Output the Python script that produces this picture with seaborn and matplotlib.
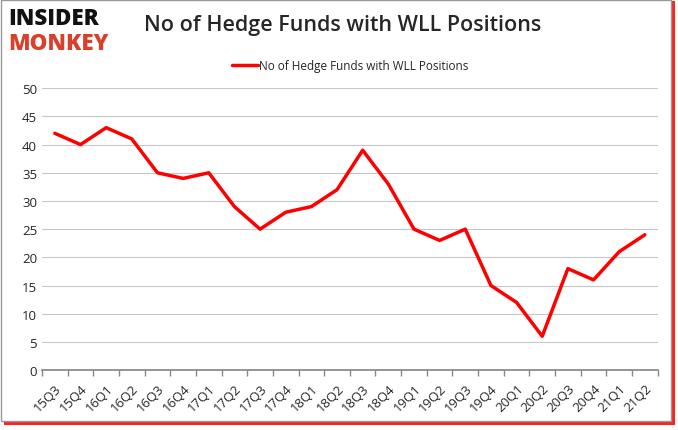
import matplotlib
matplotlib.use("Agg")
import matplotlib.pyplot as plt
import seaborn as sns
import pandas as pd
from matplotlib.patches import Rectangle
from matplotlib.ticker import FixedLocator

quarters = ["15Q3", "15Q4", "16Q1", "16Q2", "16Q3", "16Q4", "17Q1", "17Q2",
            "17Q3", "17Q4", "18Q1", "18Q2", "18Q3", "18Q4", "19Q1", "19Q2",
            "19Q3", "19Q4", "20Q1", "20Q2", "20Q3", "20Q4", "21Q1", "21Q2"]
funds = [42, 40, 43, 41, 35, 34, 35, 29, 25, 28, 29, 32, 39, 33, 25, 23,
         25, 15, 12, 6, 18, 16, 21, 24]
series_name = "No of Hedge Funds with WLL Positions"

df = pd.DataFrame({"quarter": quarters, "funds": funds})
df["pos"] = range(len(df))

sns.set_theme(style="white")
plt.rcParams["font.family"] = ["Open Sans", "DejaVu Sans"]

fig = plt.figure(figsize=(6.78, 4.31), dpi=100)

# border with a red shadow along the bottom and right
fig.patches.append(Rectangle((0.006, 0.012), 0.99, 0.984, transform=fig.transFigure,
                             facecolor="#ff2020", edgecolor="none", zorder=0))
fig.patches.append(Rectangle((0.002, 0.022), 0.988, 0.975, transform=fig.transFigure,
                             facecolor="white", edgecolor="#999999", linewidth=1, zorder=0.5))

ax = fig.add_axes([0.062, 0.139, 0.908, 0.654])
ax.set_zorder(2)
ax.patch.set_alpha(0)

sns.lineplot(data=df, x="pos", y="funds", color="#ff0000", linewidth=2.5,
             label=series_name, ax=ax)

ax.set_xlim(-0.5, len(quarters) - 0.5)
ax.set_ylim(0, 50)
ax.set_yticks(range(0, 51, 5))
ax.set_xticks(df["pos"])
ax.set_xticklabels(quarters, rotation=45, fontsize=9.5, ha="right",
                   rotation_mode="anchor")
ax.xaxis.set_minor_locator(FixedLocator([i - 0.5 for i in range(len(quarters) + 1)]))
ax.tick_params(axis="x", which="major", length=0, pad=8)
ax.tick_params(axis="x", which="minor", length=4, color="#888888", bottom=True)
ax.tick_params(axis="y", labelsize=9.5, length=0)
ax.set_xlabel("")
ax.set_ylabel("")
ax.grid(axis="y", color="#c8c8c8", linewidth=0.8)
for side in ["top", "right", "left"]:
    ax.spines[side].set_visible(False)
ax.spines["bottom"].set_color("#888888")

ax.legend(loc="lower center", bbox_to_anchor=(0.5, 1.02), frameon=False,
          fontsize=8.5, handlelength=2.2, handletextpad=0.1)

fig.text(0.506, 0.94, series_name, ha="center", va="center", fontsize=15.5,
         fontweight="semibold", family=["Open Sans", "DejaVu Sans"], zorder=3)
fig.text(0.012, 0.955, "INSIDER", ha="left", va="center", fontsize=16,
         fontweight="black", color="#111111", zorder=3)
fig.text(0.012, 0.899, "MONKEY", ha="left", va="center", fontsize=16,
         fontweight="black", color="#d9402b", zorder=3)

fig.savefig("out.png", dpi=100)
